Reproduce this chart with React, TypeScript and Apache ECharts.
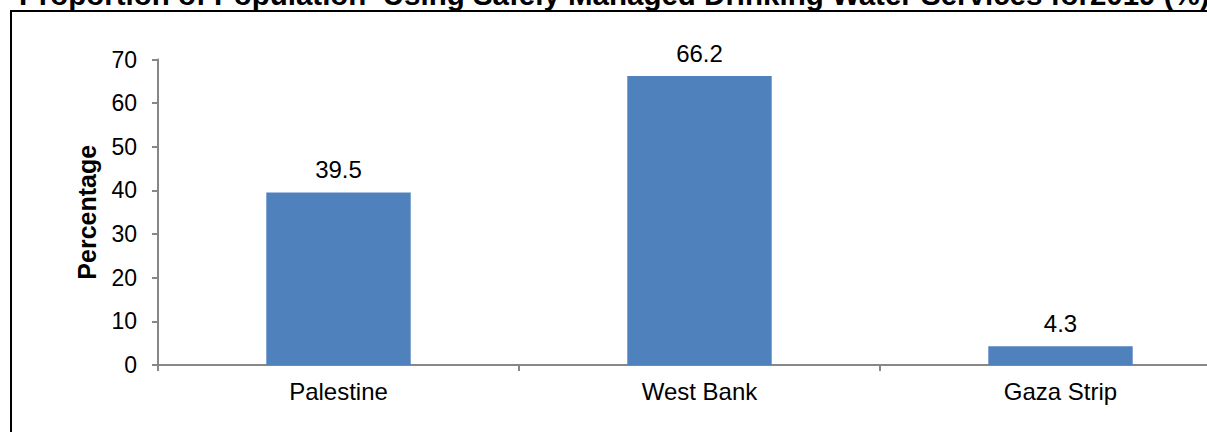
import React, { useEffect, useRef } from "react";
import * as echarts from "echarts";

const titleText = "Proportion of Population  Using Safely Managed Drinking Water Services for2019 (%)";
const categories = ["Palestine", "West Bank", "Gaza Strip"];
const values = [39.5, 66.2, 4.3];
const yAxisName = "Percentage";

const FONT = "'Liberation Sans', Arial, sans-serif";

export default function App() {
  const ref = useRef<HTMLDivElement>(null);
  useEffect(() => {
    if (!ref.current) return;
    const chart = echarts.init(ref.current, null, { renderer: "svg" });
    const axisColor = "#878787";
    chart.setOption({
      animation: false,
      backgroundColor: "#ffffff",
      textStyle: { fontFamily: FONT },
      graphic: [
        {
          type: "rect",
          shape: { x: 11, y: 11, width: 1300, height: 500 },
          style: { fill: "none", stroke: "#000", lineWidth: 2 },
          z: 0,
        },
        {
          type: "text",
          x: 19,
          y: -5.5,
          style: {
            text: titleText,
            font: "bold 29.5px " + FONT,
            fill: "#000",
            textAlign: "left",
            textVerticalAlign: "middle",
          },
        },
      ],
      grid: { left: 158, right: 9, top: 59.5, bottom: 67, containLabel: false },
      xAxis: {
        type: "category",
        data: categories,
        axisLine: { lineStyle: { color: axisColor, width: 2 } },
        axisTick: { show: true, length: 6, lineStyle: { color: axisColor, width: 2 } },
        axisLabel: { color: "#000", fontSize: 24, margin: 14, fontFamily: FONT },
      },
      yAxis: {
        type: "value",
        min: 0,
        max: 70,
        interval: 10,
        name: yAxisName,
        nameLocation: "middle",
        nameGap: 59,
        nameTextStyle: { color: "#000", fontSize: 25, fontWeight: "bold", fontFamily: FONT },
        axisLine: { show: true, lineStyle: { color: axisColor, width: 2 } },
        axisTick: { show: true, length: 6, lineStyle: { color: axisColor, width: 2 } },
        splitLine: { show: false },
        axisLabel: { color: "#000", fontSize: 23, margin: 21, fontFamily: FONT },
      },
      series: [
        {
          type: "bar",
          data: values,
          barWidth: "40%",
          itemStyle: { color: "#4F81BD" },
          label: {
            show: true,
            position: "top",
            distance: 11,
            color: "#000",
            fontSize: 24,
            fontFamily: FONT,
            formatter: (p: any) => p.value.toFixed(1),
          },
        },
      ],
    });
    return () => chart.dispose();
  }, []);
  return (
    <div style={{ position: "absolute", left: 0, top: 0, width: 1207, height: 432, overflow: "hidden" }}>
      <div ref={ref} style={{ width: 1250, height: 432 }} />
    </div>
  );
}
